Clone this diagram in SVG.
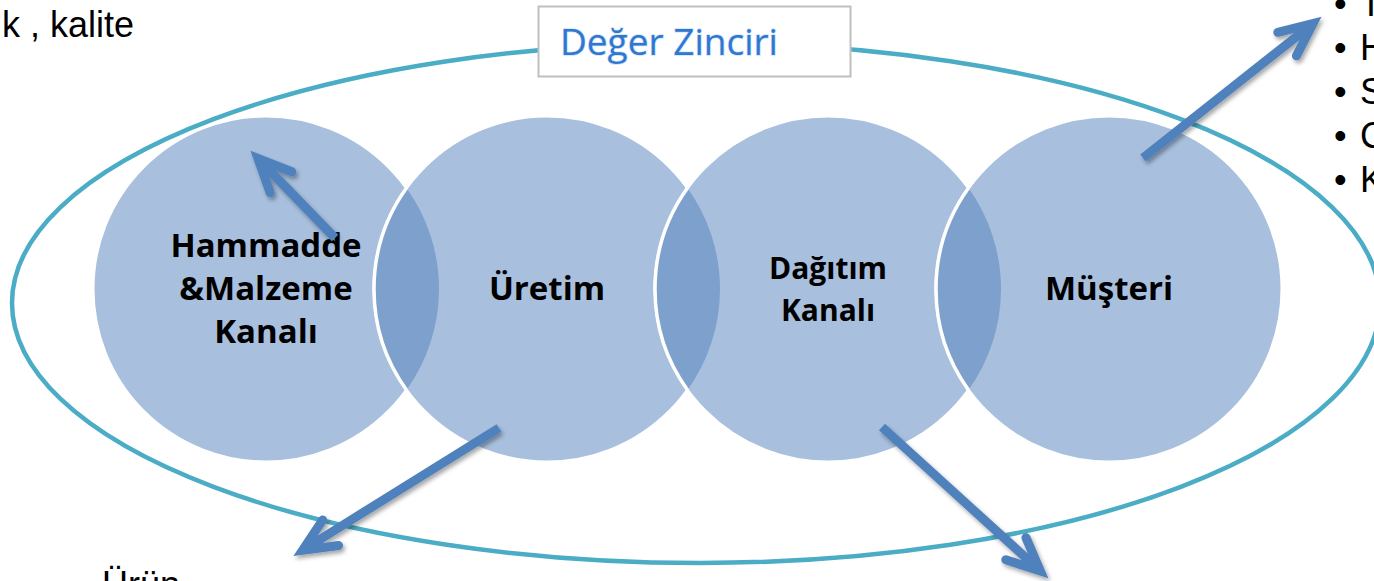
<svg xmlns="http://www.w3.org/2000/svg" width="1374" height="581" viewBox="0 0 1374 581">
  <defs>
    <style>
      .ring { fill: #A8C0DE; stroke: #FFFFFF; stroke-width: 3; }
      .lens { fill: #7DA0CD; stroke: none; }
      .edge { fill: none; stroke: #FFFFFF; stroke-width: 3.5; }
      .lbl { font-family: "Open Sans", "Noto Sans", sans-serif; font-weight: bold; fill: #000000; text-anchor: middle; }
      .side { font-family: "Liberation Sans", Arial, sans-serif; font-size: 36px; fill: #000000; }
      .arrow { fill: none; stroke: #4F81BD; stroke-width: 9; stroke-linecap: butt; }
    </style>
    <marker id="chev" markerUnits="userSpaceOnUse" orient="auto" viewBox="-50 -30 70 60" refX="0" refY="0" markerWidth="70" markerHeight="60" overflow="visible">
      <path d="M -33 -15 L 0 0 L -33 15" fill="none" stroke="#4F81BD" stroke-width="9" stroke-linecap="round" stroke-linejoin="miter"/>
    </marker>
    <filter id="shadow" x="-20%" y="-20%" width="140%" height="140%">
      <feDropShadow dx="2" dy="3" stdDeviation="2" flood-color="#000000" flood-opacity="0.35"/>
    </filter>
  </defs>

  <rect x="0" y="0" width="1374" height="581" fill="#FFFFFF"/>

  <g id="outer-ellipse">
    <path d="M 12 303 A 688 260 0 0 1 700 43 A 680 260 0 0 1 1380 303 A 680 260 0 0 1 700 563 A 688 260 0 0 1 12 303 Z" fill="none" stroke="#4BACC6" stroke-width="4.5"/>
  </g>

  <g id="title">
    <rect x="538.5" y="6.5" width="312" height="70" fill="#FFFFFF" stroke="#BFBFBF" stroke-width="2"/>
    <text x="560" y="55" font-family="'Open Sans', 'Noto Sans', sans-serif" font-size="37" fill="#2E78D2" stroke="#D3E3F6" stroke-width="1.5" paint-order="stroke">Değer Zinciri</text>
  </g>

  <g id="circles">
    <g id="node-hammadde">
      <circle class="ring" cx="266" cy="289" r="173"/>
    </g>
    <g id="node-uretim">
      <circle class="ring" cx="547" cy="289" r="173"/>
    </g>
    <g id="node-dagitim">
      <circle class="ring" cx="828" cy="289" r="173"/>
    </g>
    <g id="node-musteri">
      <circle class="ring" cx="1109" cy="289" r="173"/>
    </g>
    <g id="overlaps">
      <path class="lens" d="M 406.5 188.06 A 173 173 0 0 1 406.5 389.94 A 173 173 0 0 1 406.5 188.06 Z"/>
      <path class="edge" d="M 406.5 389.94 A 173 173 0 0 1 406.5 188.06"/>
      <path class="lens" d="M 687.5 188.06 A 173 173 0 0 1 687.5 389.94 A 173 173 0 0 1 687.5 188.06 Z"/>
      <path class="edge" d="M 687.5 389.94 A 173 173 0 0 1 687.5 188.06"/>
      <path class="lens" d="M 968.5 188.06 A 173 173 0 0 1 968.5 389.94 A 173 173 0 0 1 968.5 188.06 Z"/>
      <path class="edge" d="M 968.5 389.94 A 173 173 0 0 1 968.5 188.06"/>
    </g>
  </g>

  <g id="labels">
    <text class="lbl" font-size="33"><tspan x="266" y="257">Hammadde</tspan><tspan x="266" y="300">&amp;Malzeme</tspan><tspan x="266" y="343">Kanalı</tspan></text>
    <text class="lbl" font-size="33" x="547" y="300">Üretim</text>
    <text class="lbl" font-size="30"><tspan x="828" y="279">Dağıtım</tspan><tspan x="828" y="321">Kanalı</tspan></text>
    <text class="lbl" font-size="33" x="1109" y="300">Müşteri</text>
  </g>

  <g id="connectors" filter="url(#shadow)">
    <line class="arrow" x1="335" y1="238" x2="258" y2="158.5" marker-end="url(#chev)"/>
    <line class="arrow" x1="499" y1="428" x2="302.6" y2="550.2" marker-end="url(#chev)"/>
    <line class="arrow" x1="882" y1="427" x2="1040.3" y2="570.9" marker-end="url(#chev)"/>
    <line class="arrow" x1="1143" y1="158" x2="1313" y2="23.6" marker-end="url(#chev)"/>
  </g>

  <g id="side-texts">
    <text class="side" x="2" y="37">k , kalite</text>
    <text class="side" x="102" y="597">Ürün</text>
    <g id="bullet-list">
      <text class="side" x="1334" y="16">•</text><text class="side" x="1360" y="16">T</text>
      <text class="side" x="1334" y="60">•</text><text class="side" x="1360" y="60">H</text>
      <text class="side" x="1334" y="104">•</text><text class="side" x="1360" y="104">S</text>
      <text class="side" x="1334" y="148">•</text><text class="side" x="1360" y="148">C</text>
      <text class="side" x="1334" y="192">•</text><text class="side" x="1360" y="192">K</text>
    </g>
  </g>
</svg>
